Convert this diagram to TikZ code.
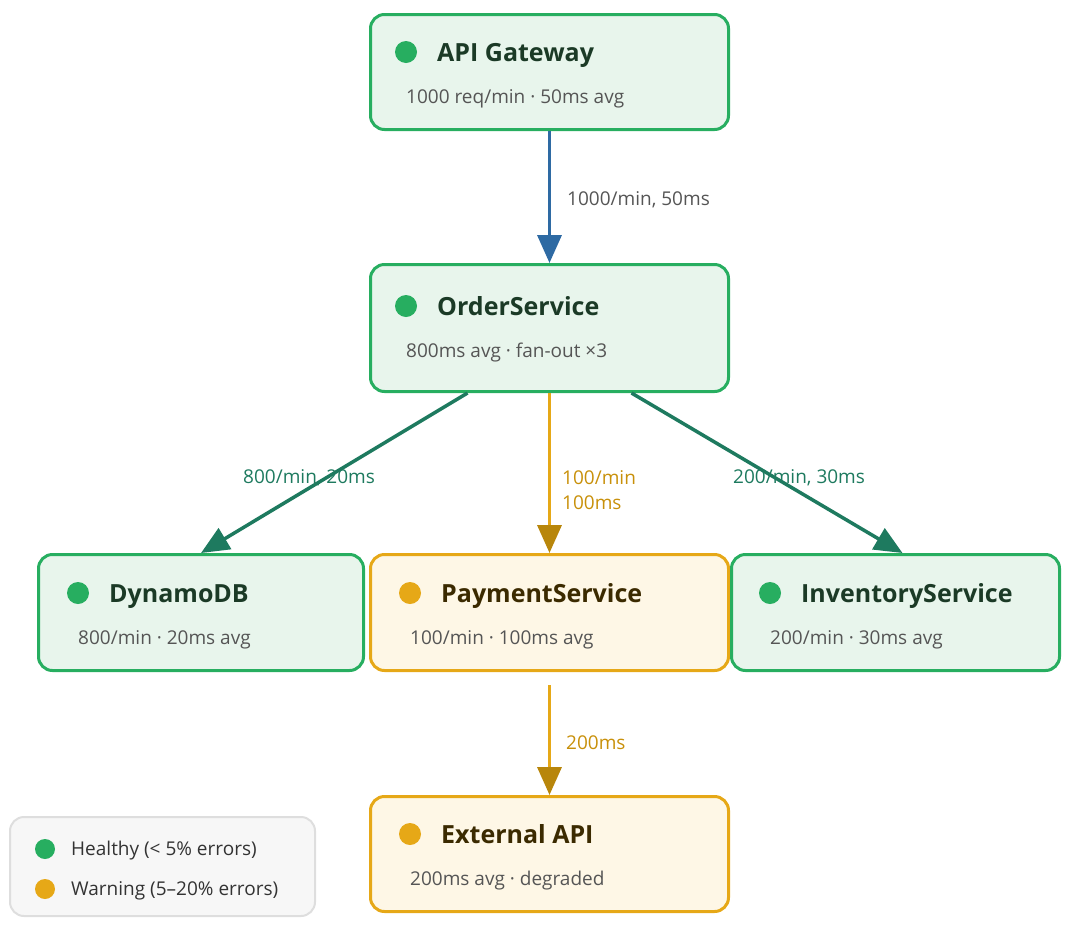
\documentclass[tikz,border=0pt]{standalone}
\usepackage{fontspec}
\setmainfont{Open Sans}
\usetikzlibrary{arrows.meta, calc, backgrounds}

\definecolor{okline}{HTML}{27AE60}
\definecolor{okfill}{HTML}{E8F5EC}
\definecolor{oktext}{HTML}{1B3A26}
\definecolor{warnline}{HTML}{E6A817}
\definecolor{warnfill}{HTML}{FEF7E6}
\definecolor{warntext}{HTML}{3B2A00}
\definecolor{warntip}{HTML}{B8860B}
\definecolor{warnlabel}{HTML}{C8900A}
\definecolor{callblue}{HTML}{2E6AA3}
\definecolor{callteal}{HTML}{1E7A5F}
\definecolor{subgray}{HTML}{555555}

\newcommand{\svc}[8]{
    \node[box#2, minimum width=#4, minimum height=#5] (#1) at (#3) {};
    \fill[#2line] (#6) circle (11);
    \node[title, text=#2text] (#1-title) at ($(#6)+(31,9)$) {#7};
    \node[sub] (#1-sub) at ($(#6)+(0,51)$) {#8};
}

\begin{document}
\begin{tikzpicture}[
    x=1pt, y=-1pt,
    boxok/.style={draw=okline, fill=okfill, line width=3pt, rounded corners=14pt, inner sep=0pt},
    boxwarn/.style={draw=warnline, fill=warnfill, line width=3pt, rounded corners=14pt, inner sep=0pt},
    title/.style={anchor=base west, inner sep=0pt, font=\fontsize{25}{30}\selectfont\bfseries},
    sub/.style={anchor=base west, inner sep=0pt, text=subgray, font=\fontsize{19}{23}\selectfont},
    lbl/.style={anchor=base west, inner sep=0pt, font=\fontsize{19}{25}\selectfont},
    call/.style={line width=3.5pt, -{Triangle[length=28pt, width=24pt]}},
    ]
    \useasboundingbox (0,0) rectangle (1069,930);

    \svc{gw}{ok}{549.5,72}{358}{115}{406,52}{API Gateway}{1000 req/min · 50ms avg}
    \svc{ord}{ok}{549.5,328}{358}{127}{406,306}{OrderService}{800ms avg · fan-out ×3}
    \svc{ddb}{ok}{201,612.5}{325}{116}{78,593}{DynamoDB}{800/min · 20ms avg}
    \svc{pay}{warn}{549.5,612.5}{358}{116}{410,593}{PaymentService}{100/min · 100ms avg}
    \svc{inv}{ok}{895.5,612.5}{328}{116}{770,593}{InventoryService}{200/min · 30ms avg}
    \svc{ext}{warn}{549.5,854}{358}{115}{410,834}{External API}{200ms avg · degraded}

    \draw[call, callblue] (gw) -- (ord);
    \draw[call, callteal] ($(ord.south)+(-82,0)$) -- (ddb.north);
    \draw[call, warnline, -{Triangle[length=28pt, width=24pt, color=warntip]}] (ord) -- (pay);
    \draw[call, callteal] ($(ord.south)+(82,0)$) -- ($(inv.north)+(7,0)$);
    \draw[call, warnline, -{Triangle[length=28pt, width=24pt, color=warntip]}] ($(pay.south)+(0,13)$) -- (ext);

    \node[lbl, text=subgray] (l-gw) at (567,205) {1000/min, 50ms};
    \node[lbl, text=callteal] (l-ddb) at (243,483) {800/min, 20ms};
    \node[lbl, text=warnlabel, anchor=west, align=left] (l-pay) at (562,490) {100/min\\100ms};
    \node[lbl, text=callteal] (l-inv) at (733,483) {200/min, 30ms};
    \node[lbl, text=warnlabel] (l-ext) at (566,749) {200ms};

    \node[draw=black!13, fill=black!3, line width=2pt, rounded corners=14pt,
        minimum width=305, minimum height=99] (legend) at (162.5,866.5) {};
    \fill[okline] (45,849) circle (10);
    \node[lbl, text=black!80] (legend-ok) at (71,855) {Healthy (< 5\% errors)};
    \fill[warnline] (45,889) circle (10);
    \node[lbl, text=black!80] (legend-warn) at (71,895) {Warning (5–20\% errors)};
\end{tikzpicture}
\end{document}
